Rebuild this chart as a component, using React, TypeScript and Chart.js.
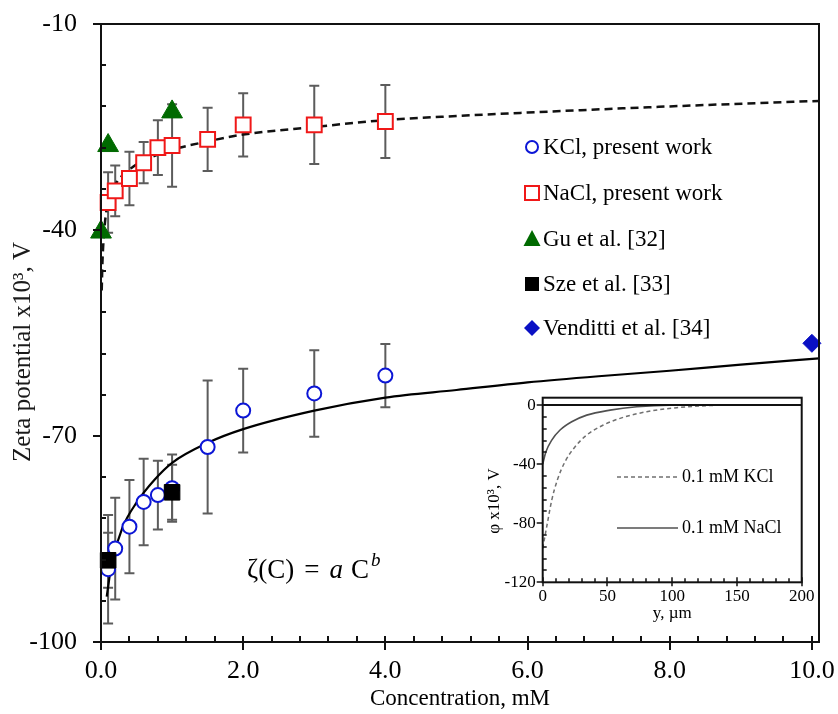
import React, { useEffect, useRef } from 'react';
import { Chart, registerables } from 'chart.js';

Chart.register(...registerables);

const FONT = '"Liberation Serif", "Times New Roman", serif';

// ---- main chart data ----
const kclConc = [0.1, 0.2, 0.4, 0.6, 0.8, 1.0, 1.5, 2.0, 3.0, 4.0];
const kclZeta = [-89.4, -86.4, -83.2, -79.6, -78.6, -77.6, -71.6, -66.3, -63.8, -61.2];
const kclErr = [7.9, 7.4, 6.8, 6.3, 5.0, 4.9, 9.7, 6.1, 6.3, 4.6];

const naclConc = [0.1, 0.2, 0.4, 0.6, 0.8, 1.0, 1.5, 2.0, 3.0, 4.0];
const naclZeta = [-36.0, -34.3, -32.5, -30.2, -28.0, -27.7, -26.8, -24.7, -24.7, -24.2];
const naclErr = [4.4, 3.7, 3.9, 3.0, 4.0, 6.0, 4.6, 4.6, 5.7, 5.3];

const guConc = [0.0, 0.1, 1.0];
const guZeta = [-40.3, -27.7, -22.8];

const szeConc = [0.1, 1.0];
const szeZeta = [-88.1, -78.2];
const szeErr = [4.0, 4.0];

const vendittiConc = [10.0];
const vendittiZeta = [-56.5];

const kclFitConc = [0.08, 0.15, 0.3, 0.5, 0.75, 1.0, 1.5, 2.0, 3.0, 4.0, 5.0, 6.0, 7.0, 8.0, 9.0, 10.1];
const kclFitZeta = [-93.4, -88.6, -83.4, -79.7, -76.4, -73.9, -71.0, -69.0, -66.3, -64.4, -63.3, -62.2, -61.3, -60.5, -59.6, -58.7];

const naclFitConc = [0.01, 0.02, 0.05, 0.1, 0.2, 0.4, 0.6, 0.8, 1.0, 1.5, 2.0, 3.0, 4.0, 5.0, 6.0, 8.0, 10.1];
const naclFitZeta = [-48.8, -44.8, -39.6, -35.8, -33.4, -31.2, -29.9, -29.0, -28.3, -27.1, -26.1, -25.0, -24.0, -23.4, -22.9, -22.0, -21.2];

const xTickValues = [0, 2, 4, 6, 8, 10];
const yTickValues = [-10, -40, -70, -100];
const xTitle = 'Concentration, mM';
const yTitle = 'Zeta potential x10\u00B3, V';
const legendLabels = ['KCl, present work', 'NaCl, present work', 'Gu et al. [32]', 'Sze et al. [33]', 'Venditti et al. [34]'];

// ---- inset data ----
const insetKclY = [0, 3.6, 7, 11.3, 17.2, 25, 34, 46.8, 62.2, 80.3, 103.5, 129, 150, 200];
const insetKclPhi = [-97, -80, -64.3, -50.7, -38.4, -28.2, -20.3, -13.5, -8.3, -4.5, -1.8, -0.3, 0, 0];
const insetNaclY = [0, 2.5, 7, 13.4, 22.4, 34, 52, 72.6, 98, 200];
const insetNaclPhi = [-40, -31.6, -23.7, -16.9, -11.3, -6.8, -3.4, -1.1, 0, 0];
const insetXTicks = [0, 50, 100, 150, 200];
const insetYTicks = [0, -40, -80, -120];
const insetXTitle = 'y, \u00B5m';
const insetYTitle = '\u03C6 x10\u00B3, V';
const insetLegend = ['0.1 mM KCl', '0.1 mM NaCl'];

const pts = (xs: number[], ys: number[]) => xs.map((x, i) => ({ x, y: ys[i] }));

const BLUE = '#0c16d6';
const RED = '#f01818';
const GREEN = '#006a00';
const DIAMOND = '#0a10c4';
const BAR = '#5c5c5c';

const mainDecor = {
  id: 'mainDecor',
  beforeDatasetsDraw(chart: any) {
    const { ctx, scales } = chart;
    const x = scales.x, y = scales.y;
    ctx.save();
    ctx.strokeStyle = BAR;
    ctx.lineWidth = 2;
    const sets: [number[], number[], number[]][] = [
      [kclConc, kclZeta, kclErr],
      [naclConc, naclZeta, naclErr],
      [szeConc, szeZeta, szeErr],
    ];
    for (const [cs, zs, es] of sets) {
      cs.forEach((c, i) => {
        const px = x.getPixelForValue(c);
        const t = y.getPixelForValue(zs[i] + es[i]);
        const b = y.getPixelForValue(zs[i] - es[i]);
        ctx.beginPath();
        ctx.moveTo(px, t); ctx.lineTo(px, b);
        ctx.moveTo(px - 5, t); ctx.lineTo(px + 5, t);
        ctx.moveTo(px - 5, b); ctx.lineTo(px + 5, b);
        ctx.stroke();
      });
    }
    ctx.restore();
  },
  afterDraw(chart: any) {
    const { ctx, chartArea, scales } = chart;
    const { left, right, top, bottom } = chartArea;
    const x = scales.x, y = scales.y;
    ctx.save();
    ctx.strokeStyle = '#111';
    ctx.lineWidth = 2;
    ctx.strokeRect(left, top, right - left, bottom - top);
    ctx.beginPath();
    for (let k = 0; k <= 25; k++) {
      const px = Math.round(x.getPixelForValue(k * 0.4));
      if (k % 5 === 0) { ctx.moveTo(px, bottom + 8); ctx.lineTo(px, bottom - 6); }
      else { ctx.moveTo(px, bottom); ctx.lineTo(px, bottom - 6); }
    }
    for (let k = 0; k <= 15; k++) {
      const py = Math.round(y.getPixelForValue(-10 - k * 6));
      if (k % 5 === 0) { ctx.moveTo(left - 8, py); ctx.lineTo(left, py); }
      else { ctx.moveTo(left, py); ctx.lineTo(left + 5, py); }
    }
    ctx.stroke();

    // y axis title
    ctx.save();
    ctx.translate(23, 352);
    ctx.rotate(-Math.PI / 2);
    ctx.font = `25px ${FONT}`;
    ctx.fillStyle = '#1a1a1a';
    ctx.textAlign = 'center';
    ctx.textBaseline = 'middle';
    ctx.fillText(yTitle, 0, 0);
    ctx.restore();

    // legend
    const lx = 532;
    const lys = [147, 193, 239, 284, 328];
    ctx.font = `23px ${FONT}`;
    ctx.textBaseline = 'middle';
    ctx.textAlign = 'left';
    ctx.fillStyle = '#000';
    legendLabels.forEach((lab, i) => {
      const ly = lys[i];
      ctx.save();
      ctx.lineWidth = 2;
      if (i === 0) { ctx.strokeStyle = BLUE; ctx.beginPath(); ctx.arc(lx, ly, 6, 0, Math.PI * 2); ctx.stroke(); }
      if (i === 1) { ctx.strokeStyle = RED; ctx.strokeRect(lx - 7, ly - 7, 14, 14); }
      if (i === 2) { ctx.fillStyle = GREEN; ctx.beginPath(); ctx.moveTo(lx, ly - 9); ctx.lineTo(lx + 8.5, ly + 7); ctx.lineTo(lx - 8.5, ly + 7); ctx.closePath(); ctx.fill(); }
      if (i === 3) { ctx.fillStyle = '#000'; ctx.fillRect(lx - 7, ly - 7, 14, 14); }
      if (i === 4) { ctx.fillStyle = DIAMOND; ctx.beginPath(); ctx.moveTo(lx, ly - 8); ctx.lineTo(lx + 8, ly); ctx.lineTo(lx, ly + 8); ctx.lineTo(lx - 8, ly); ctx.closePath(); ctx.fill(); }
      ctx.restore();
      ctx.fillText(lab, 543, ly + 1);
    });

    // equation
    ctx.textBaseline = 'alphabetic';
    let cx = 247;
    const by = 578;
    ctx.font = `27px ${FONT}`;
    ctx.fillText('\u03B6(C)', cx, by); cx += ctx.measureText('\u03B6(C)').width + 10;
    ctx.fillText('=', cx, by); cx += ctx.measureText('=').width + 10;
    ctx.font = `italic 27px ${FONT}`;
    ctx.fillText('a', cx, by); cx += ctx.measureText('a').width + 8;
    ctx.font = `27px ${FONT}`;
    ctx.fillText('C', cx, by); cx += ctx.measureText('C').width + 2;
    ctx.font = `italic 19px ${FONT}`;
    ctx.fillText('b', cx, by - 12);
    ctx.restore();
  },
};

const insetDecor = {
  id: 'insetDecor',
  afterDraw(chart: any) {
    const { ctx, chartArea, scales } = chart;
    const { left, right, top, bottom } = chartArea;
    const x = scales.x, y = scales.y;
    ctx.save();
    ctx.strokeStyle = '#111';
    ctx.lineWidth = 2;
    ctx.strokeRect(left, top, right - left, bottom - top);
    const y0 = y.getPixelForValue(0);
    ctx.beginPath(); ctx.moveTo(left, y0); ctx.lineTo(right, y0); ctx.stroke();
    ctx.lineWidth = 1.5;
    ctx.beginPath();
    for (let k = 0; k <= 20; k++) {
      const px = Math.round(x.getPixelForValue(k * 10));
      if (k % 5 === 0) { ctx.moveTo(px, bottom + 4); ctx.lineTo(px, bottom - 5); }
      else { ctx.moveTo(px, bottom); ctx.lineTo(px, bottom - 4); }
    }
    for (let k = 0; k <= 15; k++) {
      const py = Math.round(y.getPixelForValue(-k * 8));
      if (k % 5 === 0) { ctx.moveTo(left - 6, py); ctx.lineTo(left, py); }
      else { ctx.moveTo(left, py); ctx.lineTo(left + 4, py); }
    }
    ctx.stroke();

    // legend
    ctx.lineWidth = 1.5;
    ctx.strokeStyle = '#707070';
    ctx.setLineDash([4, 3]);
    ctx.beginPath(); ctx.moveTo(157, 92); ctx.lineTo(218, 92); ctx.stroke();
    ctx.setLineDash([]);
    ctx.strokeStyle = '#505050';
    ctx.beginPath(); ctx.moveTo(157, 143); ctx.lineTo(218, 143); ctx.stroke();
    ctx.fillStyle = '#000';
    ctx.font = `18px ${FONT}`;
    ctx.textBaseline = 'middle';
    ctx.textAlign = 'left';
    ctx.fillText(insetLegend[0], 222, 92);
    ctx.fillText(insetLegend[1], 222, 143);

    // y title
    ctx.translate(35, 116);
    ctx.rotate(-Math.PI / 2);
    ctx.textAlign = 'center';
    ctx.font = `17px ${FONT}`;
    ctx.fillText(insetYTitle, 0, 0);
    ctx.restore();
  },
};

export default function App() {
  const mainRef = useRef<HTMLCanvasElement>(null);
  const insetRef = useRef<HTMLCanvasElement>(null);

  useEffect(() => {
    Chart.defaults.font.family = FONT;
    Chart.defaults.color = '#000';

    const main = new Chart(mainRef.current!, {
      type: 'line',
      data: {
        datasets: [
          { data: pts(vendittiConc, vendittiZeta), showLine: false, pointStyle: 'rectRot', pointRadius: 9, pointBackgroundColor: DIAMOND, pointBorderColor: DIAMOND, pointBorderWidth: 1, clip: false } as any,
          { data: pts(szeConc, szeZeta), showLine: false, pointStyle: 'rect', pointRadius: 11, pointBackgroundColor: '#000', pointBorderColor: '#000', pointBorderWidth: 1, clip: false },
          { data: pts(guConc, guZeta), showLine: false, pointStyle: 'triangle', pointRadius: 12, pointBackgroundColor: GREEN, pointBorderColor: GREEN, pointBorderWidth: 1, clip: false },
          { data: pts(kclConc, kclZeta), showLine: false, pointStyle: 'circle', pointRadius: 7, pointBackgroundColor: '#fff', pointBorderColor: BLUE, pointBorderWidth: 2, clip: false },
          { data: pts(naclConc, naclZeta), showLine: false, pointStyle: 'rect', pointRadius: 10.5, pointBackgroundColor: '#fff', pointBorderColor: RED, pointBorderWidth: 2, clip: false },
          { data: pts(kclFitConc, kclFitZeta), borderColor: '#000', borderWidth: 2.2, pointRadius: 0, cubicInterpolationMode: 'monotone', fill: false },
          { data: pts(naclFitConc, naclFitZeta), borderColor: '#111', borderWidth: 2.5, borderDash: [8, 5], pointRadius: 0, cubicInterpolationMode: 'monotone', fill: false },
        ],
      },
      options: {
        animation: false,
        responsive: false,
        layout: { padding: { top: 24, right: 19, left: 0, bottom: 0 } },
        plugins: { legend: { display: false }, tooltip: { enabled: false } },
        scales: {
          x: {
            type: 'linear', min: 0, max: 10.1,
            grid: { display: false, drawTicks: false }, border: { display: false },
            afterBuildTicks: (s: any) => { s.ticks = xTickValues.map((v) => ({ value: v })); },
            afterFit: (s: any) => { s.height = 72; s.paddingLeft = 0; s.paddingRight = 0; },
            ticks: { padding: 14, font: { size: 26 }, color: '#000', maxRotation: 0, autoSkip: false, callback: (v: any) => Number(v).toFixed(1) },
            title: { display: true, text: xTitle, font: { size: 23 }, color: '#000', padding: { top: 0, bottom: 1 } },
          },
          y: {
            type: 'linear', min: -100, max: -10,
            grid: { display: false, drawTicks: false }, border: { display: false },
            afterBuildTicks: (s: any) => { s.ticks = yTickValues.map((v) => ({ value: v })); },
            afterFit: (s: any) => { s.width = 101; s.paddingTop = 0; s.paddingBottom = 0; },
            ticks: { padding: 24, font: { size: 26 }, color: '#000', autoSkip: false, callback: (v: any) => String(v) },
            title: { display: false },
          },
        },
      } as any,
      plugins: [mainDecor],
    });

    const inset = new Chart(insetRef.current!, {
      type: 'line',
      data: {
        datasets: [
          { data: pts(insetKclY, insetKclPhi), borderColor: '#707070', borderWidth: 1.5, borderDash: [4, 3], pointRadius: 0, cubicInterpolationMode: 'monotone', fill: false },
          { data: pts(insetNaclY, insetNaclPhi), borderColor: '#505050', borderWidth: 1.6, pointRadius: 0, cubicInterpolationMode: 'monotone', fill: false },
        ],
      },
      options: {
        animation: false,
        responsive: false,
        layout: { padding: { top: 12.7, right: 28.3, left: 0, bottom: 0 } },
        plugins: { legend: { display: false }, tooltip: { enabled: false } },
        scales: {
          x: {
            type: 'linear', min: 0, max: 200,
            grid: { display: false, drawTicks: false }, border: { display: false },
            afterBuildTicks: (s: any) => { s.ticks = insetXTicks.map((v) => ({ value: v })); },
            afterFit: (s: any) => { s.height = 57.7; s.paddingLeft = 0; s.paddingRight = 0; },
            ticks: { padding: 4, font: { size: 17 }, color: '#000', maxRotation: 0, autoSkip: false, callback: (v: any) => String(v) },
            title: { display: true, text: insetXTitle, font: { size: 17 }, color: '#000', padding: { top: 0, bottom: 16 } },
          },
          y: {
            type: 'linear', min: -120, max: 5,
            grid: { display: false, drawTicks: false }, border: { display: false },
            afterBuildTicks: (s: any) => { s.ticks = insetYTicks.map((v) => ({ value: v })); },
            afterFit: (s: any) => { s.width = 82.7; s.paddingTop = 0; s.paddingBottom = 0; },
            ticks: { padding: 7, font: { size: 17 }, color: '#000', autoSkip: false, callback: (v: any) => String(v) },
          },
        },
      } as any,
      plugins: [insetDecor],
    });

    return () => { main.destroy(); inset.destroy(); };
  }, []);

  return (
    <div style={{ position: 'absolute', left: 0, top: 0, width: 838, height: 714, background: '#fff' }}>
      <canvas ref={mainRef} width={838} height={714} style={{ position: 'absolute', left: 0, top: 0, width: 838, height: 714 }} />
      <canvas ref={insetRef} width={370} height={255} style={{ position: 'absolute', left: 460, top: 385, width: 370, height: 255 }} />
    </div>
  );
}
